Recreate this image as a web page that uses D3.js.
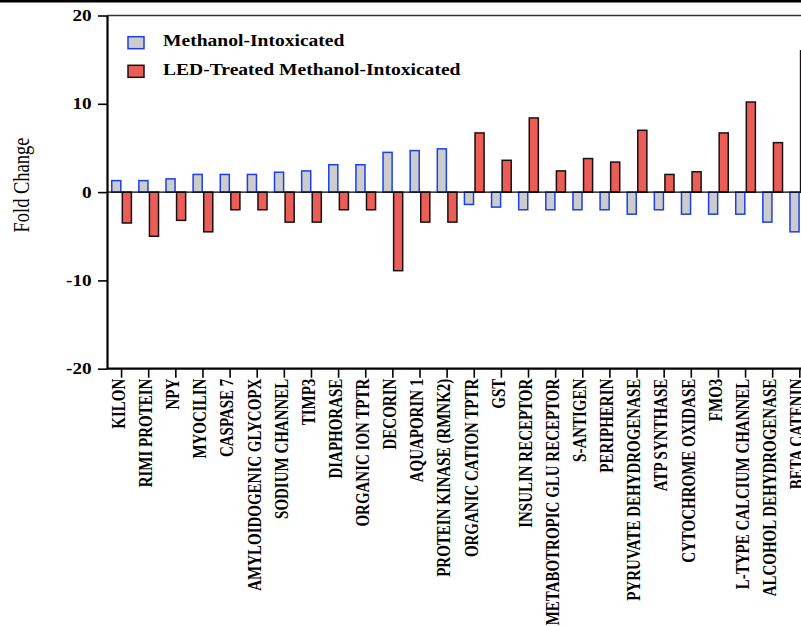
<!DOCTYPE html>
<html lang="en">
<head>
  <meta charset="UTF-8">
  <title>Fold Change</title>
  <style>
    body { margin: 0; background: #fff; }
    svg { display: block; font-family: "Liberation Serif", "Times New Roman", serif; }
  </style>
</head>
<body>
  <section class="plot"></section>

  <script src="https://cdn.jsdelivr.net/npm/d3@7/dist/d3.min.js"></script>
  <script>
    // Data
    const genes = [
      "KILON", "RIMI PROTEIN", "NPY", "MYOCILIN", "CASPASE 7",
      "AMYLOIDOGENIC GLYCOPX", "SODIUM CHANNEL", "TIMP3", "DIAPHORASE",
      "ORGANIC ION TPTR", "DECORIN", "AQUAPORIN 1", "PROTEIN KINASE (RMNK2)",
      "ORGANIC CATION TPTR", "GST", "INSULIN RECEPTOR", "METABOTROPIC GLU RECEPTOR",
      "S-ANTIGEN", "PERIPHERIN", "PYRUVATE DEHYDROGENASE", "ATP SYNTHASE",
      "CYTOCHROME OXIDASE", "FMO3", "L-TYPE CALCIUM CHANNEL",
      "ALCOHOL DEHYDROGENASE", "BETA CATENIN"
    ];
    const methanol = [
      1.3, 1.3, 1.5, 2.0, 2.0, 2.0, 2.25, 2.4, 3.1, 3.1, 4.5, 4.7, 4.9,
      -1.4, -1.7, -2.0, -2.0, -2.0, -2.0, -2.5, -2.0, -2.5, -2.5, -2.5, -3.4, -4.5
    ];
    const ledTreated = [
      -3.5, -5.0, -3.2, -4.5, -2.0, -2.0, -3.4, -3.4, -2.0, -2.0, -8.9, -3.4, -3.4,
      6.7, 3.6, 8.4, 2.4, 3.8, 3.4, 7.0, 2.0, 2.3, 6.7, 10.2, 5.6, 16.0
    ];
    const seriesNames = ["Methanol-Intoxicated", "LED-Treated Methanol-Intoxicated"];
    const yTicks = [-20, -10, 0, 10, 20];

    const fills = ["#cccccc", "#eb5d57"];
    const strokes = ["#1d3fe6", "#1a1010"];

    const W = 801, H = 626;
    const svg = d3.select(".plot")
      .append("svg")
      .attr("width", W)
      .attr("height", H);

    // Scales
    const axisX = 107;
    const step = 27.13;
    const x = d3.scaleBand()
      .domain(genes)
      .range([108, 108 + step * genes.length])
      .paddingInner(0.22)
      .paddingOuter(0.11);
    const xs = d3.scaleBand()
      .domain([0, 1])
      .range([0, x.bandwidth()]);
    const y = d3.scaleLinear()
      .domain([-20, 20])
      .range([368.7, 15.5]);

    // top rule
    svg.append("rect")
      .attr("x", 0).attr("y", 0)
      .attr("width", W).attr("height", 2.5)
      .attr("fill", "#000");

    // frame top line
    svg.append("line")
      .attr("x1", axisX).attr("x2", W)
      .attr("y1", y(20)).attr("y2", y(20))
      .attr("stroke", "#333")
      .attr("stroke-width", 1.5);

    // Bars
    const rows = genes.map((g, i) => ({ gene: g, vals: [methanol[i], ledTreated[i]] }));
    const groups = svg.append("g")
      .selectAll("g")
      .data(rows)
      .enter()
      .append("g")
        .attr("transform", d => `translate(${x(d.gene)},0)`);

    groups.selectAll("rect")
      .data(d => d.vals.map((v, k) => ({ v, k })))
      .enter()
      .append("rect")
        .attr("x", d => xs(d.k) + 0.75)
        .attr("width", xs.bandwidth() - 1.5)
        .attr("y", d => y(Math.max(0, d.v)))
        .attr("height", d => Math.abs(y(d.v) - y(0)))
        .attr("fill", d => fills[d.k])
        .attr("stroke", d => strokes[d.k])
        .attr("stroke-width", 1.5);

    // zero line
    svg.append("line")
      .attr("x1", axisX).attr("x2", W)
      .attr("y1", y(0)).attr("y2", y(0))
      .attr("stroke", "#000")
      .attr("stroke-width", 1.2);

    // Y axis
    const yAxis = svg.append("g")
      .attr("transform", `translate(${axisX},0)`)
      .call(d3.axisLeft(y).tickValues(yTicks).tickSize(9).tickSizeOuter(0));
    yAxis.select(".domain").attr("stroke-width", 2.2);
    yAxis.selectAll(".tick line").attr("stroke-width", 1.6);
    yAxis.selectAll(".tick text")
      .attr("font-family", "Liberation Serif")
      .attr("font-size", 16)
      .attr("font-weight", "bold")
      .attr("fill", "#000")
      .attr("x", 0)
      .attr("transform", "translate(-15.3,0) scale(1.2,1)")
      .text(d => d < 0 ? "-" + Math.abs(d) : d);

    // X axis
    const xAxis = svg.append("g")
      .attr("transform", `translate(0,${y(-20)})`)
      .call(d3.axisBottom(x).tickSize(9).tickSizeOuter(0));
    xAxis.select(".domain")
      .attr("d", `M${axisX},0H${W}`)
      .attr("stroke-width", 2.2);
    xAxis.selectAll(".tick line").attr("stroke-width", 1.6);
    xAxis.selectAll(".tick text")
      .attr("font-family", "Liberation Serif")
      .attr("font-size", 15)
      .attr("font-weight", "bold")
      .attr("fill", "#000")
      .attr("text-anchor", "end")
      .attr("transform", "rotate(-90) scale(1,1.2)")
      .attr("x", -10)
      .attr("y", 2.75)
      .attr("dy", 0);

    // Y label
    svg.append("text")
      .attr("transform", `translate(29,185) rotate(-90) scale(1,1.2)`)
      .attr("text-anchor", "middle")
      .attr("font-size", 18.5)
      .attr("fill", "#000")
      .text("Fold Change");

    // Legend
    const legend = svg.append("g")
      .selectAll("g")
      .data(seriesNames)
      .enter()
      .append("g")
        .attr("transform", (d, i) => `translate(128,${36.7 + i * 28.6})`);
    legend.append("rect")
      .attr("width", 16)
      .attr("height", 12)
      .attr("fill", (d, i) => fills[i])
      .attr("stroke", (d, i) => strokes[i])
      .attr("stroke-width", 1.5);
    legend.append("text")
      .attr("transform", "translate(35,9.3) scale(1.2,1)")
      .attr("font-size", 16.3)
      .attr("font-weight", "bold")
      .attr("fill", "#000")
      .text(d => d);
  </script>
</body>
</html>
